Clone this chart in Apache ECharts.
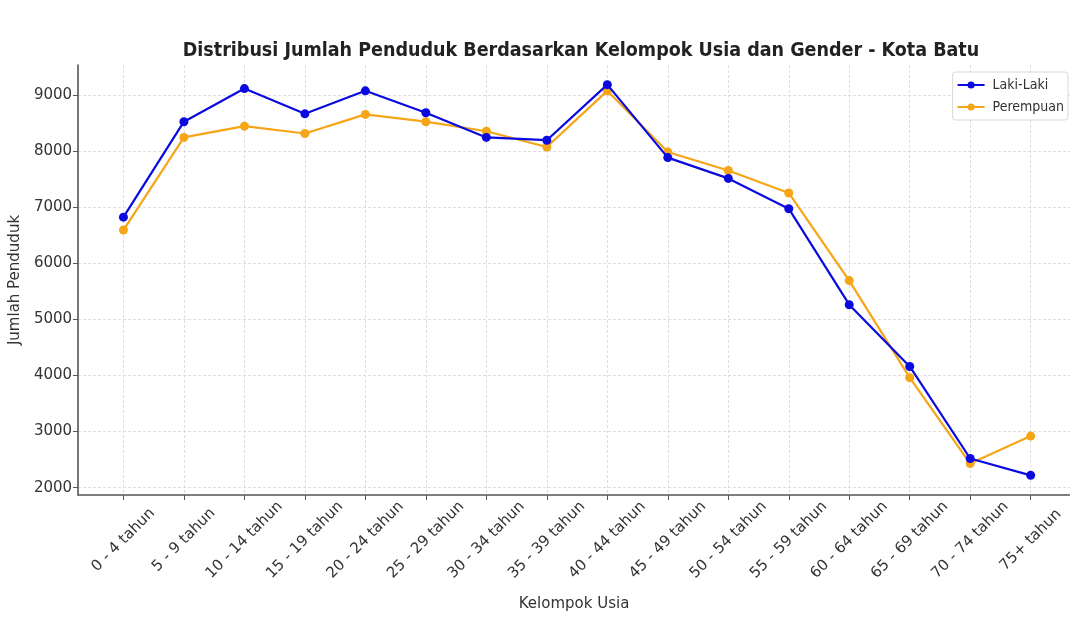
<!DOCTYPE html>
<html>
<head>
<meta charset="utf-8">
<script src="https://cdn.jsdelivr.net/npm/echarts@6/dist/echarts.min.js"></script>
<style>
  html, body { margin: 0; padding: 0; background: #fff; }
  #main { width: 1070px; height: 617px; }
</style>
</head>
<body>
<div id="main"></div>
<script>
let kelompokUsia = ['0 - 4 tahun', '5 - 9 tahun', '10 - 14 tahun', '15 - 19 tahun', '20 - 24 tahun', '25 - 29 tahun',
    '30 - 34 tahun', '35 - 39 tahun', '40 - 44 tahun', '45 - 49 tahun', '50 - 54 tahun', '55 - 59 tahun',
    '60 - 64 tahun', '65 - 69 tahun', '70 - 74 tahun', '75+ tahun']
let lakiLaki = [6820, 8520, 9110, 8660, 9070, 8680, 8240, 8190, 9180, 7880, 7510, 6970, 5260, 4160, 2520, 2220]
let perempuan = [6590, 8240, 8440, 8310, 8650, 8520, 8350, 8070, 9070, 7980, 7650, 7250, 5690, 3960, 2430, 2920]
let yTicks = [2000, 3000, 4000, 5000, 6000, 7000, 8000, 9000]

let xTicks = kelompokUsia.map((k, i) => i)
let font = 'DejaVu Sans'

let myChart = echarts.init(document.getElementById('main'))
let option = {
    backgroundColor: '#ffffff',
    animation: false,
    textStyle: { fontFamily: font },
    title: {
        text: 'Distribusi Jumlah Penduduk Berdasarkan Kelompok Usia dan Gender - Kota Batu',
        left: 576,
        top: 36,
        textAlign: 'center',
        textStyle: {
            fontFamily: 'DejaVu Sans Condensed',
            fontSize: 19.5,
            fontWeight: 'bold',
            color: '#222'
        }
    },
    legend: {
        orient: 'vertical',
        right: 2,
        top: 72,
        itemWidth: 27,
        itemHeight: 9,
        itemGap: 8,
        padding: [6, 4, 6, 4],
        borderColor: '#d8d8d8',
        borderWidth: 1,
        borderRadius: 3,
        backgroundColor: '#fff',
        textStyle: { fontSize: 14, color: '#333', fontFamily: 'DejaVu Sans Condensed', padding: [0, 0, 0, 3] },
        data: ['Laki-Laki', 'Perempuan']
    },
    grid: {
        left: 78,
        right: 0,
        top: 65,
        bottom: 118
    },
    xAxis: {
        type: 'value',
        min: -0.75,
        max: 15.65,
        name: 'Kelompok Usia',
        nameLocation: 'middle',
        nameGap: 102,
        nameTextStyle: { fontSize: 15, color: '#333', fontFamily: font },
        axisLine: { show: true, onZero: false, lineStyle: { color: '#555', width: 1.6 } },
        axisTick: { show: true, length: 5, lineStyle: { color: '#555', width: 1 }, customValues: xTicks },
        axisLabel: {
            customValues: xTicks,
            rotate: 45,
            margin: 45,
            align: 'center',
            verticalAlign: 'middle',
            fontSize: 15,
            color: '#333',
            formatter: function (v) {
                return kelompokUsia[Math.round(v)]
            }
        },
        splitLine: { show: true, lineStyle: { color: '#d6d6d6', type: [3, 2], width: 0.8 } }
    },
    yAxis: {
        type: 'value',
        min: 1870,
        max: 9530,
        name: 'Jumlah Penduduk',
        nameLocation: 'middle',
        nameGap: 54,
        nameTextStyle: { fontSize: 15, color: '#333', fontFamily: font },
        axisLine: { show: true, onZero: false, lineStyle: { color: '#555', width: 1.6 } },
        axisTick: { show: true, length: 5, lineStyle: { color: '#555', width: 1 }, customValues: yTicks },
        axisLabel: {
            customValues: yTicks,
            margin: 6,
            fontSize: 15,
            color: '#333',
            formatter: function (v) {
                return String(v)
            }
        },
        splitLine: { show: true, lineStyle: { color: '#d6d6d6', type: [3, 2], width: 0.8 } }
    },
    series: [
        {
            name: 'Laki-Laki',
            type: 'line',
            symbol: 'circle',
            symbolSize: 9,
            lineStyle: { width: 2.2, color: '#0a0ae0' },
            itemStyle: { color: '#0a0ae0' },
            data: lakiLaki.map((v, i) => [i, v]),
            z: 3
        },
        {
            name: 'Perempuan',
            type: 'line',
            symbol: 'circle',
            symbolSize: 9,
            lineStyle: { width: 2.2, color: '#f5a516' },
            itemStyle: { color: '#f5a516' },
            data: perempuan.map((v, i) => [i, v]),
            z: 2
        }
    ]
}
myChart.clear()
myChart.setOption(option)
</script>
</body>
</html>
